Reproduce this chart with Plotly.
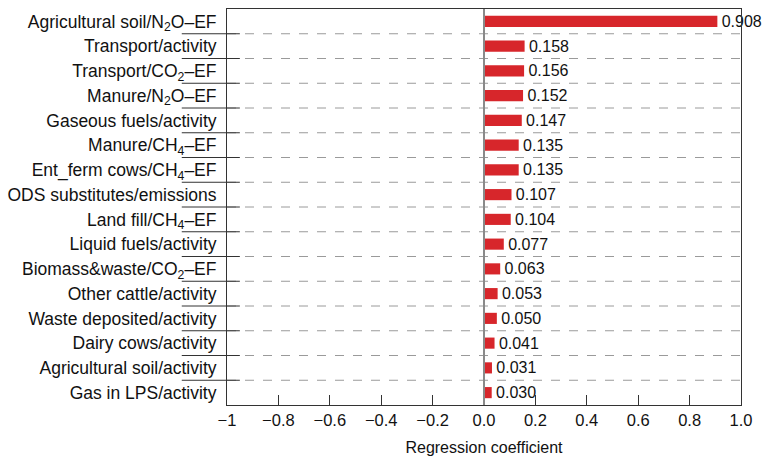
import plotly.graph_objects as go

categories = [
    "Agricultural soil/N<sub>2</sub>O\u2013EF",
    "Transport/activity",
    "Transport/CO<sub>2</sub>\u2013EF",
    "Manure/N<sub>2</sub>O\u2013EF",
    "Gaseous fuels/activity",
    "Manure/CH<sub>4</sub>\u2013EF",
    "Ent_ferm cows/CH<sub>4</sub>\u2013EF",
    "ODS substitutes/emissions",
    "Land fill/CH<sub>4</sub>\u2013EF",
    "Liquid fuels/activity",
    "Biomass&waste/CO<sub>2</sub>\u2013EF",
    "Other cattle/activity",
    "Waste deposited/activity",
    "Dairy cows/activity",
    "Agricultural soil/activity",
    "Gas in LPS/activity",
]
values = [0.908, 0.158, 0.156, 0.152, 0.147, 0.135, 0.135, 0.107, 0.104,
          0.077, 0.063, 0.053, 0.050, 0.041, 0.031, 0.030]
tick_vals = [-1, -0.8, -0.6, -0.4, -0.2, 0.0, 0.2, 0.4, 0.6, 0.8, 1.0]
tick_text = ["\u22121", "\u22120.8", "\u22120.6", "\u22120.4", "\u22120.2",
             "0.0", "0.2", "0.4", "0.6", "0.8", "1.0"]

FONT = "Liberation Sans Narrow, Arial Narrow, Liberation Sans, sans-serif"

idx = list(range(len(categories)))

fig = go.Figure()
fig.add_trace(go.Bar(
    x=values, y=idx, orientation="h",
    marker=dict(color="#d7262b", line=dict(width=0)),
    width=0.45,
    text=[f"\u200a{v:.3f}" for v in values],
    textposition="outside",
    constraintext="none",
    textfont=dict(size=16, color="#111", family=FONT),
    cliponaxis=False,
    hoverinfo="skip",
))

shapes = []
for i in range(len(categories) - 1):
    yb = i + 0.5
    shapes.append(dict(type="line", xref="x", yref="y", x0=-1, x1=1, y0=yb, y1=yb,
                       line=dict(color="#9a9a9a", width=1, dash="dash"), layer="below"))
    shapes.append(dict(type="line", xref="paper", yref="y", x0=-0.088, x1=0.025,
                       y0=yb, y1=yb, line=dict(color="#333", width=1)))
shapes.append(dict(type="line", xref="x", yref="paper", x0=0, x1=0, y0=0, y1=1,
                   line=dict(color="#8a8a8a", width=2)))

fig.update_layout(
    width=763, height=459,
    margin=dict(l=227, r=22, t=9, b=54, autoexpand=False),
    plot_bgcolor="white", paper_bgcolor="white",
    showlegend=False,
    hovermode=False,
    font=dict(family=FONT, size=17, color="#111"),
    shapes=shapes,
    xaxis=dict(range=[-1, 1], tickvals=tick_vals, ticktext=tick_text,
               ticks="inside", ticklen=10, tickcolor="#333", tickwidth=1,
               showgrid=False, zeroline=False, automargin=False,
               showline=True, linecolor="#333", linewidth=1, mirror=True,
               tickfont=dict(size=16.5),
               title=dict(text="Regression coefficient", font=dict(size=16), standoff=14)),
    yaxis=dict(range=[15.5, -0.5], tickvals=idx, ticktext=categories,
               showgrid=False, zeroline=False, ticks="", automargin=False,
               showline=True, linecolor="#333", linewidth=1, mirror=True,
               tickfont=dict(size=17.5), ticklabelstandoff=6),
)

fig.write_html("out.html", config={"displayModeBar": False, "staticPlot": True},
               post_script="document.body.style.margin='0';")
